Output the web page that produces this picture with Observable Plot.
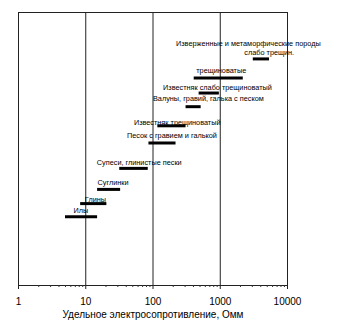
<!DOCTYPE html>
<html><head><meta charset="utf-8">
<script src="https://cdn.jsdelivr.net/npm/d3@7"></script>
<script src="https://cdn.jsdelivr.net/npm/@observablehq/plot@0.6"></script>
<style>body{margin:0;background:#fff}</style>
</head><body><div id="chart"></div>
<script>
// Rock resistivity ranges (Ohm·m)
const rocks = ["Изверженные и метаморфические породы слабо трещин.", "Изверженные трещиноватые", "Известняк слабо трещиноватый", "Валуны, гравий, галька с песком", "Известняк трещиноватый", "Песок с гравием и галькой", "Супеси, глинистые пески", "Суглинки", "Глины", "Илы"];
const rhoMin = [3100, 410, 485, 310, 118, 87, 32, 15, 8.4, 5];
const rhoMax = [5400, 2200, 970, 520, 310, 220, 85, 33, 20.6, 15];
const barLevel = [83, 76, 70.5, 65.5, 58.5, 52.2, 42.9, 35.2, 30, 25.2];

// Label texts and where they sit (value at text start, vertical level)
const labelText = ["Изверженные и метаморфические породы", "слабо трещин.", "трещиноватые", "Известняк слабо трещиноватый", "Валуны, гравий, галька с песком", "Известняк трещиноватый", "Песок с гравием и галькой", "Супеси, глинистые пески", "Суглинки", "Глины", "Илы"];
const labelX = [220, 2280, 440, 141, 100, 52, 41, 14.6, 15, 9.7, 6.6];
const labelLevel = [88.6, 85.3, 78.6, 72.4, 68.3, 59.6, 54.9, 45, 37.6, 31.4, 27.4];

const majorTicks = [1, 10, 100, 1000, 10000];
const tickLabels = ["1", "10", "100", "1000", "10000"];
const gridValues = [10, 100, 1000];
const minorTicks = [2,3,4,5,6,7,8,9,20,30,40,50,60,70,80,90,200,300,400,500,600,700,800,900,2000,3000,4000,5000,6000,7000,8000,9000];
const xTitle = "Удельное электросопротивление, Омм";

const bars = rocks.map((r, i) => ({rock: r, lo: rhoMin[i], hi: rhoMax[i], level: barLevel[i]}));
const labels = labelText.map((t, i) => ({text: t, x: labelX[i], level: labelLevel[i]}));

const chart = Plot.plot({
  width: 337,
  height: 328,
  marginLeft: 18,
  marginRight: 50,
  marginTop: 12,
  marginBottom: 43,
  style: {fontFamily: "'Liberation Sans', Arial, sans-serif", background: "#fff", color: "#000"},
  x: {type: "log", domain: [1, 10000]},
  y: {domain: [0, 100], axis: null},
  marks: [
    Plot.ruleX(gridValues, {stroke: "#222", strokeWidth: 1}),
    Plot.frame({stroke: "#222", strokeWidth: 1}),
    Plot.axisX(minorTicks, {tickSize: 2, tickFormat: () => "", stroke: "#333", label: null}),
    Plot.axisX(majorTicks, {tickSize: 4, tickPadding: 8, tickFormat: (d) => tickLabels[majorTicks.indexOf(d)], fontSize: 10, stroke: "#222", label: xTitle, labelAnchor: "center", labelArrow: "none", labelOffset: 32}),
    Plot.ruleY(bars, {x1: "lo", x2: "hi", y: "level", stroke: "#000", strokeWidth: 3}),
    Plot.text(labels, {x: "x", y: "level", text: "text", textAnchor: "start", fontSize: 7.3, fill: "#000", fontFamily: "'Liberation Sans', Arial, sans-serif"})
  ]
});
document.getElementById("chart").append(chart);
</script>
</body></html>
